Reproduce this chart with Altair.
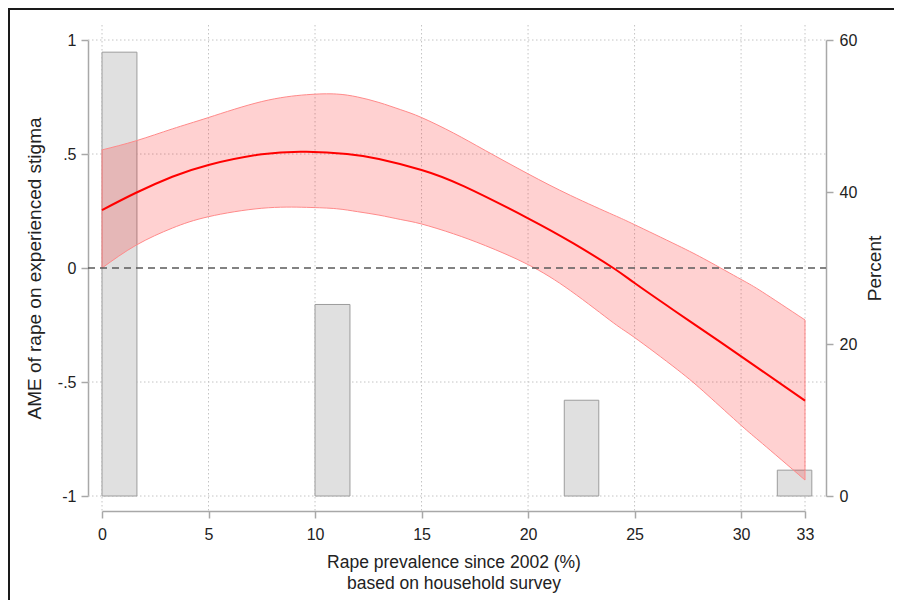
import altair as alt
import pandas as pd

# ---- data ----
prev_x = [0, 1.6, 3.3, 5, 7.5, 9.6, 11.5, 13, 15, 17, 20, 22.13, 24, 25, 26.82, 29, 31, 33]
ame = [0.254, 0.33, 0.40, 0.452, 0.499, 0.510, 0.500, 0.478, 0.430, 0.358, 0.218,
       0.108, 0.0, -0.066, -0.184, -0.323, -0.452, -0.582]

band_x = [0, 1.6, 3.3, 5, 7.5, 9.6, 11, 12, 13, 14, 15, 16.5, 18, 20, 22, 24, 25, 27, 28.4, 30, 31, 33]
ci_upper = [0.518, 0.558, 0.61, 0.66, 0.73, 0.760, 0.763, 0.750, 0.726, 0.695, 0.66, 0.592,
            0.515, 0.413, 0.318, 0.233, 0.19, 0.10, 0.033, -0.05, -0.105, -0.228]
ci_lower = [0.0, 0.10, 0.175, 0.225, 0.262, 0.266, 0.260, 0.247, 0.232, 0.213, 0.193, 0.15,
            0.098, 0.015, -0.10, -0.24, -0.305, -0.445, -0.555, -0.69, -0.77, -0.93]

bar_start = [0, 10.0, 21.7, 31.7]
bar_end = [1.64, 11.64, 23.32, 33.32]
bar_pct = [58.4, 25.2, 12.6, 3.4]

x_ticks = [0, 5, 10, 15, 20, 25, 30, 33]
y_ticks = [-1, -0.5, 0, 0.5, 1]
y_labels = ["-1", "-.5", "0", ".5", "1"]
pct_ticks = [0, 20, 40, 60]

x_title = ["Rape prevalence since 2002 (%)", "based on household survey"]
y_title = "AME of rape on experienced stigma"
pct_title = "Percent"

FONT = "Liberation Sans"
AX = "#a8a8a8"
TXT = "#222222"
W, H = 703, 456

curve = pd.DataFrame({"x": prev_x, "ame": ame})
band_df = pd.DataFrame({"x": band_x, "hi": ci_upper, "lo": ci_lower})
bars = pd.DataFrame({"x0": bar_start, "x1": bar_end, "pct": bar_pct})
xgrid = pd.DataFrame({"t": x_ticks})
ygrid = pd.DataFrame({"t": [v for v in y_ticks if v != 0]})
zero = pd.DataFrame({"t": [0]})

xscale = alt.Scale(domain=[0, 33], nice=False, zero=False)
yscale = alt.Scale(domain=[-1, 1], nice=False, zero=False)
pscale = alt.Scale(domain=[0, 60], nice=False, zero=False)

label_expr = " : ".join(
    f"datum.value == {v} ? '{l}'" for v, l in zip(y_ticks, y_labels)
) + " : datum.label"

x_axis = alt.Axis(values=x_ticks, orient="bottom", offset=15, tickSize=7,
                  domainColor=AX, tickColor=AX, domainWidth=1.5, tickWidth=1.5,
                  labelFont=FONT, labelFontSize=16, labelColor=TXT, labelPadding=8,
                  labelFlush=False, labelOverlap=False, grid=False,
                  title=x_title, titleFont=FONT, titleFontSize=17.5,
                  titleFontWeight="normal", titleColor=TXT, titlePadding=11,
                  titleLineHeight=21)

y_axis = alt.Axis(values=y_ticks, orient="left", offset=14, tickSize=7,
                  domainColor=AX, tickColor=AX, domainWidth=1.5, tickWidth=1.5,
                  labelFont=FONT, labelFontSize=16, labelColor=TXT, labelPadding=5,
                  labelExpr=label_expr, grid=False,
                  title=y_title, titleFont=FONT, titleFontSize=19,
                  titleFontWeight="normal", titleColor=TXT, titlePadding=13)

p_axis = alt.Axis(values=pct_ticks, orient="right", offset=21, tickSize=7,
                  domainColor=AX, tickColor=AX, domainWidth=1.5, tickWidth=1.5,
                  labelFont=FONT, labelFontSize=16, labelColor=TXT, labelPadding=6,
                  grid=False,
                  title=pct_title, titleFont=FONT, titleFontSize=19,
                  titleFontWeight="normal", titleColor=TXT, titlePadding=9,
                  titleAngle=270, titleBaseline="top")

grid_style = dict(color="#c4c4c4", strokeWidth=1, strokeDash=[1.5, 2.5])

vgrid = alt.Chart(xgrid).mark_rule(**grid_style).encode(
    x=alt.X("t:Q", scale=xscale, axis=x_axis),
    y=alt.value(-15), y2=alt.value(H + 15))
hgrid = alt.Chart(ygrid).mark_rule(**grid_style).encode(
    y=alt.Y("t:Q", scale=yscale, axis=None),
    x=alt.value(-14), x2=alt.value(W + 21))

frame_left = alt.Chart(alt.Data(values=[{}])).mark_rule(color="#1a1a1a", strokeWidth=2).encode(
    x=alt.value(-93), y=alt.value(-32), y2=alt.value(700))
frame_top = alt.Chart(alt.Data(values=[{}])).mark_rule(color="#1a1a1a", strokeWidth=2).encode(
    x=alt.value(-94), x2=alt.value(900), y=alt.value(-31))

grid_layer = alt.layer(vgrid, hgrid, frame_left, frame_top)

bar_layer = alt.Chart(bars).mark_rect(fill="#e0e0e0", stroke="#9c9c9c", strokeWidth=1).encode(
    x=alt.X("x0:Q", scale=xscale, axis=x_axis),
    x2="x1:Q",
    y=alt.Y("pct:Q", scale=pscale, axis=p_axis),
    y2=alt.datum(0))

band = alt.Chart(band_df).mark_area(fill="#ff0000", fillOpacity=0.18, stroke="#ff8a8a",
                                    strokeWidth=1, interpolate="natural").encode(
    x=alt.X("x:Q", scale=xscale, axis=x_axis),
    y=alt.Y("hi:Q", scale=yscale, axis=y_axis),
    y2="lo:Q")
zline = alt.Chart(zero).mark_rule(color="#5a5a5a", strokeWidth=1.3, strokeDash=[7, 5]).encode(
    y=alt.Y("t:Q", scale=yscale),
    x=alt.value(-14), x2=alt.value(W + 21))
line = alt.Chart(curve).mark_line(color="#ff0000", strokeWidth=2, interpolate="natural").encode(
    x=alt.X("x:Q", scale=xscale, axis=x_axis),
    y=alt.Y("ame:Q", scale=yscale))

main_layer = alt.layer(band, zline, line)

chart = alt.layer(grid_layer, bar_layer, main_layer).resolve_scale(
    y="independent"
).properties(
    width=W, height=H,
    padding={"left": 94, "top": 32, "right": 89, "bottom": 104},
    autosize=alt.AutoSizeParams(type="none"),
    background="white",
).configure_view(stroke=None)

chart.save("out.html", embed_options={"renderer": "svg", "actions": False})
